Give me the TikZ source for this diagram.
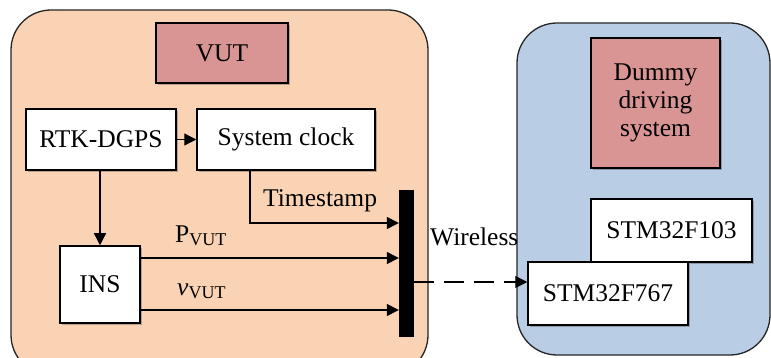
\documentclass[tikz,border=0pt]{standalone}
\usepackage{fontspec}
\setmainfont{Liberation Serif}
\usetikzlibrary{arrows.meta,shadows}
\definecolor{peach}{HTML}{FAD3B4}
\definecolor{paleblue}{HTML}{B9CDE5}
\definecolor{rosebox}{HTML}{D99594}
\newcommand{\vutsub}{\raisebox{-3pt}{\fontsize{18}{18}\selectfont VUT}}
\tikzset{
  container/.style={draw=black!85, line width=1.3pt, rounded corners=40pt},
  block/.style={draw=black, line width=1.5pt, fill=white, inner sep=0pt,
    font=\fontsize{25.5}{30}\selectfont, align=center,
    drop shadow={shadow xshift=2pt, shadow yshift=-2pt, fill=black, opacity=0.25}},
  titlebox/.style={block, fill=rosebox},
  arr/.style={line width=1.3pt, -{Triangle[length=12pt,width=12pt]}},
  lbl/.style={font=\fontsize{25.5}{30}\selectfont, inner sep=0pt, anchor=base}
}
\begin{document}
\begin{tikzpicture}[x=1pt,y=-1pt]
\clip (0,0) rectangle (771,358);
\fill[white] (0,0) rectangle (771,358);

% the two systems
\draw[container, fill=peach] (11,10) rectangle (428,375);
\draw[container, fill=paleblue] (517,23) rectangle (770,355);

% vehicle under test
\node[titlebox, minimum width=132pt, minimum height=60pt] (VUT) at (222,53) {VUT};
\node[block, minimum width=150pt, minimum height=61pt] (RTK) at (101,139.5) {RTK-DGPS};
\node[block, minimum width=178pt, minimum height=61pt] (Clock) at (286,139.5) {System clock};
\node[block, minimum width=80pt, minimum height=77pt] (INS) at (100,284.5) {INS};
\node[fill=black, inner sep=0pt, minimum width=15pt, minimum height=147pt] (Bar) at (406.5,263.5) {};

% dummy driving system
\node[titlebox, minimum width=129pt, minimum height=130pt] (Dummy) at (655.5,103)
  {Dummy\\[-2pt]driving\\[-2pt]system};
\node[block, minimum width=161pt, minimum height=63pt] (F103) at (671.5,230.5) {STM32F103};
\node[block, minimum width=160pt, minimum height=63pt] (F767) at (608,293.5) {STM32F767};

% signal routing
\coordinate (ts) at (250,223);
\coordinate (pv) at (0,258);
\coordinate (vv) at (0,310);
\coordinate (wl) at (0,282);

\draw[arr] (RTK.east) -- (Clock.west);
\draw[arr] (RTK.south -| INS.north) -- (INS.north);
\draw[arr] (Clock.south -| ts) -- (ts) -- (ts -| Bar.west);
\draw[arr] (INS.east |- pv) -- (Bar.west |- pv);
\draw[arr] (INS.east |- vv) -- (Bar.west |- vv);
\draw[arr, dash pattern=on 20pt off 10pt] (Bar.east |- wl) -- (F767.west |- wl);

% labels
\node[lbl, anchor=base west] (tsl) at (263,207) {Timestamp};
\node[lbl, anchor=base west] (pl) at (175,243) {P\vutsub};
\node[lbl, anchor=base west] (vl) at (177,295) {\textit{v}\vutsub};
\node[lbl, anchor=base west] (wll) at (430,245) {Wireless};
\end{tikzpicture}
\end{document}
